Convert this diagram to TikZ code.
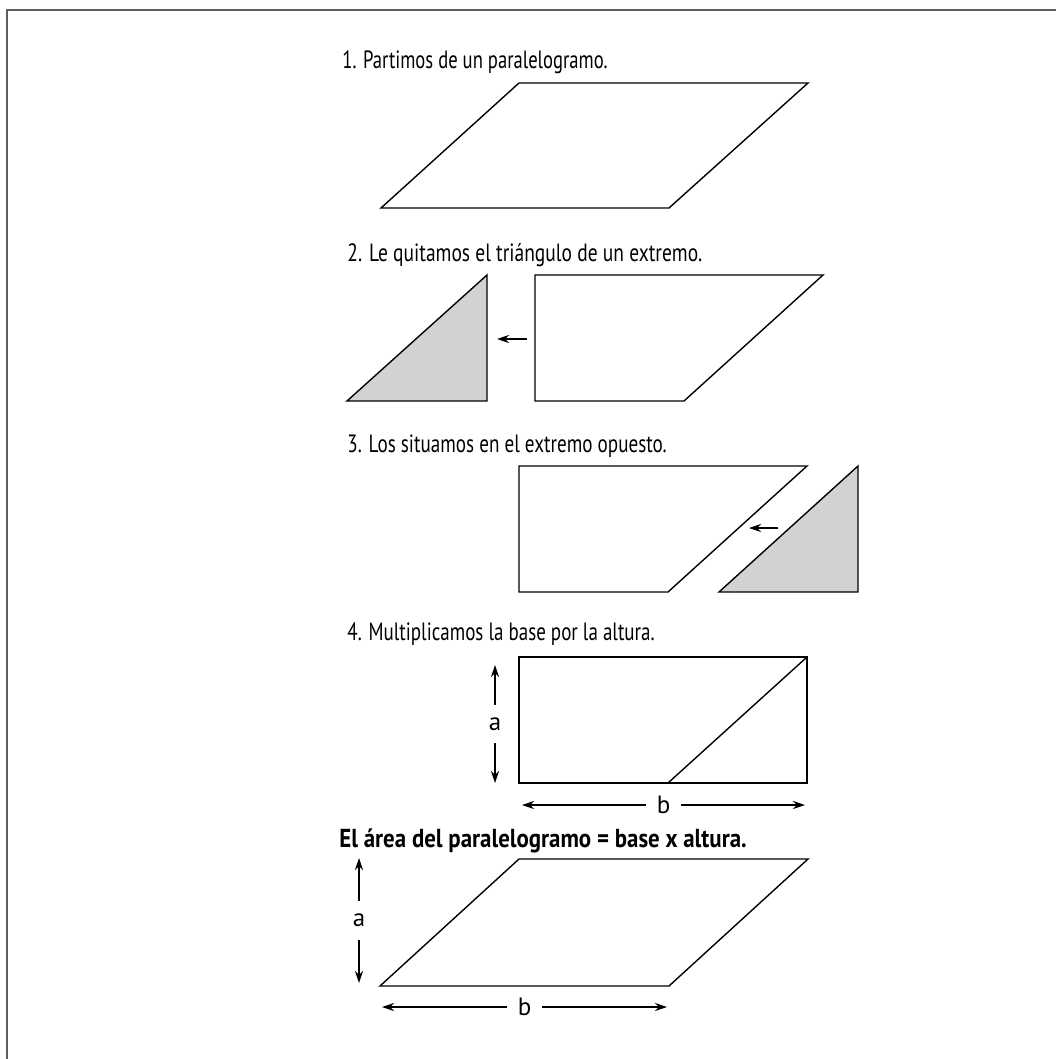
\documentclass[tikz,border=0pt]{standalone}
\usepackage{fontspec}
\setmainfont{PT Sans}
\usetikzlibrary{arrows.meta}
\definecolor{shade}{HTML}{D1D2D4}
\definecolor{rule}{HTML}{5E5E5E}
\newcommand{\hscale}[2]{\scalebox{#1}[1]{#2}}
\tikzset{
  fig/.style={draw,line width=0.7pt,line join=miter},
  piece/.style={fig,fill=shade},
  ar/.style={-{Stealth[length=6pt,width=4pt]},line width=0.6pt},
  dim/.style={{Stealth[length=6pt,width=4pt]}-{Stealth[length=6pt,width=4pt]},line width=0.6pt},
  note/.style={anchor=base west,inner sep=0pt,font=\fontsize{12.5}{15}\selectfont},
  alab/.style={fill=white,inner xsep=2pt,inner ysep=6.5pt,font=\fontsize{12.5}{15}\selectfont},
  blab/.style={fill=white,inner xsep=5.5pt,inner ysep=1pt,font=\fontsize{12.5}{15}\selectfont}
}
\begin{document}
\begin{tikzpicture}[x=0.5pt,y=-0.5pt]
\useasboundingbox (0,0) rectangle (1056,1059);
\draw[rule,line width=1pt] (7,1059) -- (7,10) -- (1056,10);

% step 1
\node[note] (t1) at (342,69) {\hscale{0.745}{1. Partimos de un paralelogramo.}};
\draw[fig] (381,208) -- (669,208) -- (808,83) -- (519,83) -- cycle;

% step 2
\node[note] (t2) at (347,262) {\hscale{0.78}{2. Le quitamos el triángulo de un extremo.}};
\draw[piece] (347,401) -- (487,401) -- (487,275) -- cycle;
\draw[fig] (535,275) -- (823,275) -- (684,401) -- (535,401) -- cycle;
\coordinate (s2) at (527,339);
\coordinate (e2) at (497,339);
\draw[ar] (s2) -- (e2);

% step 3
\node[note] (t3) at (347,452) {\hscale{0.765}{3. Los situamos en el extremo opuesto.}};
\draw[fig] (519,466) -- (807,466) -- (668,592) -- (519,592) -- cycle;
\draw[piece] (719,592) -- (858,592) -- (858,466) -- cycle;
\coordinate (s3) at (778,528);
\coordinate (e3) at (749,528);
\draw[ar] (s3) -- (e3);

% step 4
\node[note] (t4) at (347,640) {\hscale{0.76}{4. Multiplicamos la base por la altura.}};
\draw[fig] (519,657) rectangle (807,783);
\draw[fig] (668,783) -- (807,657);
\coordinate (a4t) at (495,665);
\coordinate (a4b) at (495,783);
\draw[dim] (a4t) -- node[alab] (a4) {a} (a4b);
\coordinate (b4l) at (522,805);
\coordinate (b4r) at (805,805);
\draw[dim] (b4l) -- node[blab] (b4) {b} (b4r);

% result
\node[note,font=\fontsize{13}{15}\selectfont\bfseries] (t5) at (339,847) {\hscale{0.88}{El área del paralelogramo = base x altura.}};
\draw[fig] (380,986) -- (669,986) -- (808,859) -- (519,859) -- cycle;
\coordinate (a5t) at (359,858);
\coordinate (a5b) at (359,983);
\draw[dim] (a5t) -- node[alab] (a5) {a} (a5b);
\coordinate (b5l) at (382,1007);
\coordinate (b5r) at (667,1007);
\draw[dim] (b5l) -- node[blab] (b5) {b} (b5r);
\end{tikzpicture}
\end{document}
